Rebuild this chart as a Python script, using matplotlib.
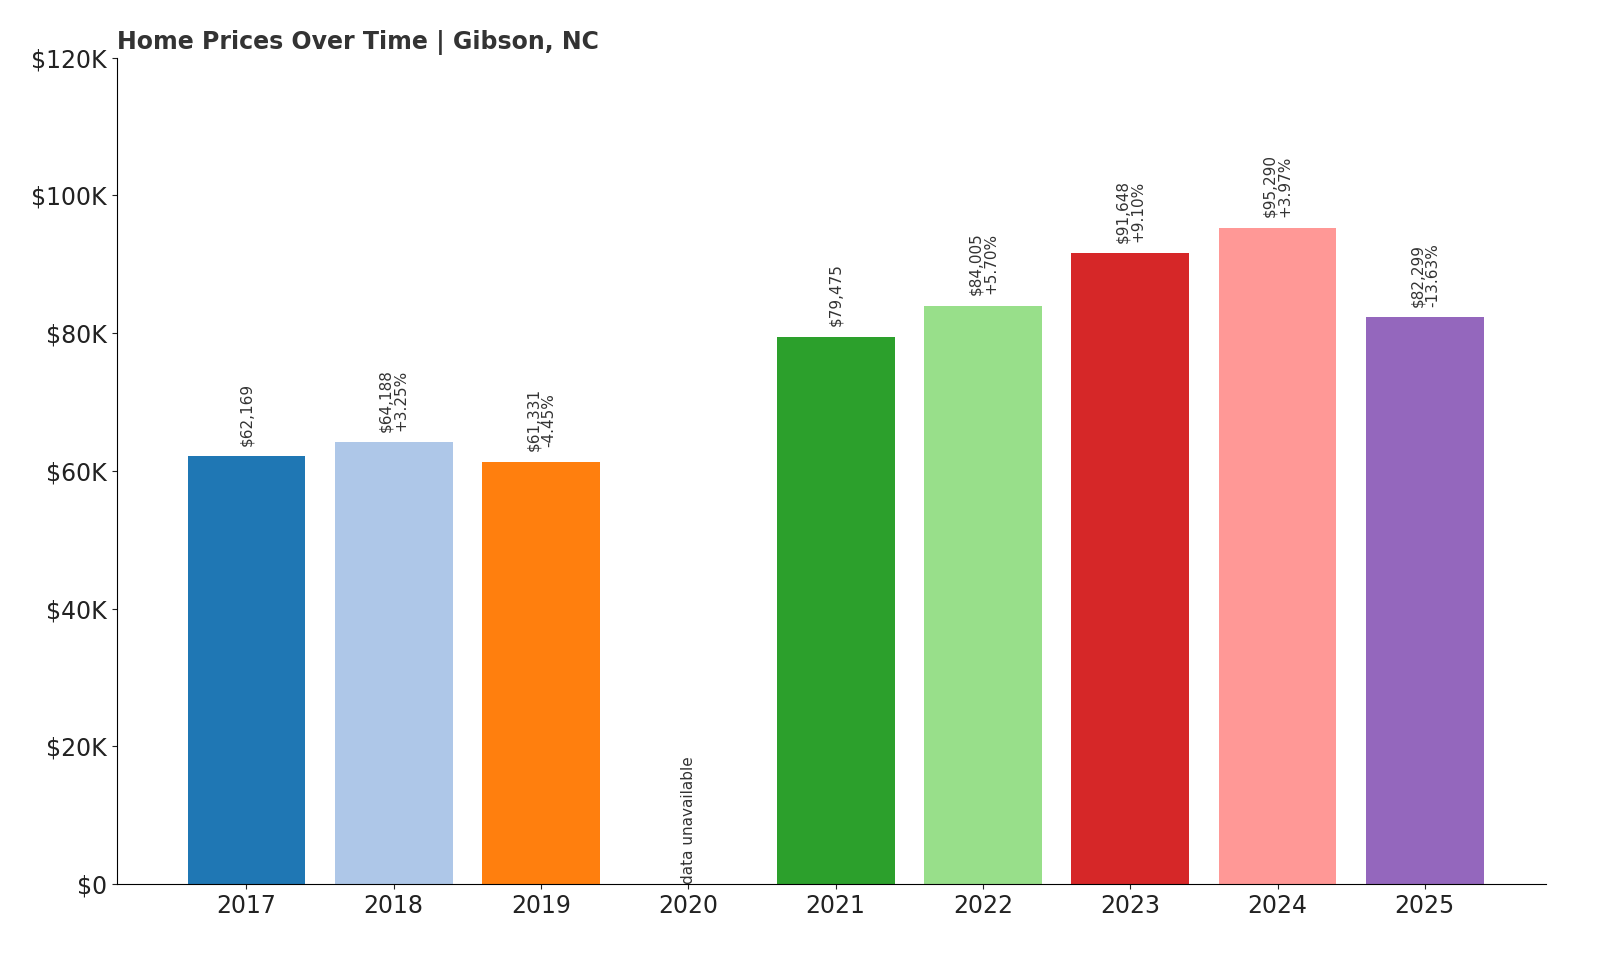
import matplotlib
matplotlib.use("Agg")
import matplotlib.pyplot as plt

years = ["2017", "2018", "2019", "2020", "2021", "2022", "2023", "2024", "2025"]
values = [62169, 64188, 61331, None, 79475, 84005, 91648, 95290, 82299]
changes = [None, "+3.25%", "-4.45%", None, None, "+5.70%", "+9.10%", "+3.97%", "-13.63%"]
colors = ["#1f77b4", "#aec7e8", "#ff7f0e", "#ffbb78", "#2ca02c", "#98df8a", "#d62728", "#ff9896", "#9467bd"]

fig = plt.figure(figsize=(16, 9.6), dpi=100)
ax = fig.add_axes([0.073, 0.079, 0.893, 0.861])
x = list(range(len(years)))
for i, v in enumerate(values):
    if v is None:
        ax.text(i, 0, "data unavailable", rotation=90, ha="center", va="bottom",
                fontsize=11, color="#333333")
        continue
    ax.bar(i, v, width=0.8, color=colors[i])
    lbl = f"${v:,}" + (f"\n{changes[i]}" if changes[i] else "")
    ax.text(i, v + 1500, lbl, rotation=90, ha="center", va="bottom",
            fontsize=11, color="#333333", linespacing=1.0)

ax.set_xticks(x)
ax.set_xticklabels(years)
ax.set_ylim(0, 120000)
ax.set_xlim(-0.88, 8.82)
ax.set_yticks(range(0, 120001, 20000))
ax.set_yticklabels(["$0"] + [f"${k}K" for k in range(20, 121, 20)])
ax.tick_params(labelsize=17, colors="#222222")
for s in ["top", "right"]:
    ax.spines[s].set_visible(False)
ax.set_title("Home Prices Over Time | Gibson, NC", loc="left", fontsize=17,
             fontweight="bold", color="#333333", pad=6)
fig.savefig("out.png")
